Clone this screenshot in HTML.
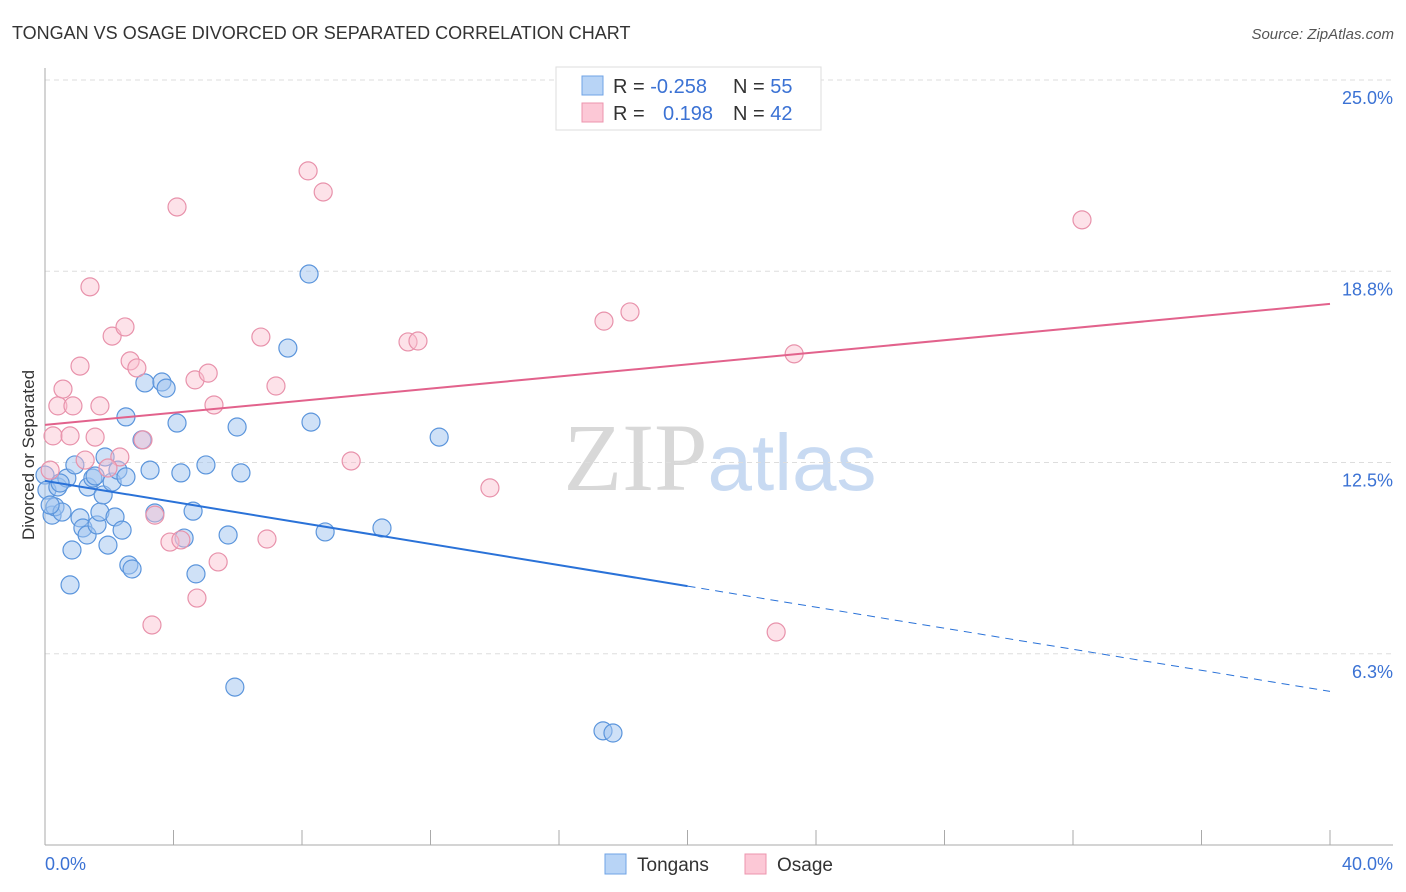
<!DOCTYPE html>
<html><head><meta charset="utf-8"><style>
html,body{margin:0;padding:0;background:#fff;width:1406px;height:892px;overflow:hidden;font-family:"Liberation Sans",sans-serif}
</style></head><body>
<svg id="chart" width="1406" height="892" xmlns="http://www.w3.org/2000/svg" font-family="Liberation Sans, sans-serif">
<text x="12" y="39" font-size="18" fill="#333">TONGAN VS OSAGE DIVORCED OR SEPARATED CORRELATION CHART</text>
<text x="1394" y="39" font-size="15" fill="#555" text-anchor="end" font-style="italic">Source: ZipAtlas.com</text>
<text x="720" y="490" font-size="96" text-anchor="middle"><tspan fill="#d8d8d8" font-family="Liberation Serif, serif">ZIP</tspan><tspan fill="#c8daf2" font-size="80">atlas</tspan></text>
<g id="grid"></g>
<g id="axes"></g>
<g id="pts"></g>
<g id="trends"></g>
<text transform="translate(34,455) rotate(-90)" font-size="17" fill="#333" text-anchor="middle">Divorced or Separated</text>
<g>
<rect x="556" y="67" width="265" height="63" fill="#fff" stroke="#ddd"/>
<rect x="582" y="76" width="21" height="19" fill="#b8d4f6" stroke="#6fa3e6"/>
<rect x="582" y="103" width="21" height="19" fill="#fcc8d6" stroke="#ec94ae"/>
<text x="613" y="93" font-size="20" fill="#333">R = <tspan fill="#3b72d4">-0.258</tspan></text>
<text x="733" y="93" font-size="20" fill="#333">N = <tspan fill="#3b72d4">55</tspan></text>
<text x="613" y="120" font-size="20" fill="#333">R = </text>
<text x="663" y="120" font-size="20" fill="#3b72d4">0.198</text>
<text x="733" y="120" font-size="20" fill="#333">N = <tspan fill="#3b72d4">42</tspan></text>
</g>
<g>
<rect x="605" y="854" width="21" height="20" fill="#b8d4f6" stroke="#6fa3e6"/>
<text x="637" y="871" font-size="19" fill="#333">Tongans</text>
<rect x="745" y="854" width="21" height="20" fill="#fcc8d6" stroke="#ec94ae"/>
<text x="777" y="871" font-size="19" fill="#333">Osage</text>
</g>
</svg>
<script>
const yTicks=[25,18.75,12.5,6.25];
const yTickLabels=["25.0%","18.8%","12.5%","6.3%"];
const xTicks=[0,4,8,12,16,20,24,28,32,36,40];
const xEndLabels=["0.0%","40.0%"];
const tonganX=[0,0.06,0.22,0.31,0.40,0.53,0.68,0.84,0.78,0.93,1.09,1.18,1.31,1.34,1.49,1.62,1.71,1.81,1.87,1.96,2.09,2.18,2.27,2.40,2.52,2.52,2.61,2.71,3.02,3.11,3.27,3.42,3.64,3.77,4.11,4.23,4.33,4.61,4.70,5.01,5.70,5.98,6.10,5.91,7.56,8.22,8.28,8.72,10.49,12.27,17.37,17.68,0.16,0.47,1.56];
const tonganY=[12.09,11.60,10.78,11.05,11.70,10.88,11.99,9.64,8.50,12.42,10.69,10.36,10.13,11.70,11.99,10.46,10.88,11.44,12.68,9.80,11.86,10.72,12.25,10.29,12.03,13.99,9.15,9.02,13.24,15.10,12.25,10.85,15.13,14.93,13.79,12.16,10.03,10.91,8.86,12.42,10.13,13.66,12.16,5.16,16.24,18.66,13.82,10.23,10.36,13.33,3.73,3.66,11.11,11.83,12.06];
const osageX=[0.16,0.25,0.40,0.56,0.78,0.87,1.09,1.25,1.40,1.56,1.71,2.09,2.49,2.65,2.86,3.05,2.33,1.96,3.42,3.89,4.11,4.23,4.67,4.73,5.08,5.26,5.39,3.33,6.72,6.91,7.19,8.19,8.66,9.53,11.30,11.61,13.85,17.40,18.21,22.76,23.32,32.28];
const osageY=[12.25,13.37,14.35,14.90,13.37,14.35,15.65,12.58,18.24,13.33,14.35,16.63,16.93,15.82,15.59,13.24,12.68,12.32,10.78,9.90,20.85,9.97,15.20,8.07,15.42,14.38,9.25,7.19,16.60,10.00,15.00,22.03,21.34,12.55,16.44,16.47,11.67,17.12,17.42,6.96,16.05,20.43];
const tonganTrend=[11.90,-0.172];
const osageTrend=[13.73,0.0988];
const NS="http://www.w3.org/2000/svg";
const X0=45,X1=1330,YT=80,PPU=30.6;
function sx(v){return X0+(v/40)*(X1-X0);}
function sy(v){return YT+(25-v)*PPU;}
function mk(tag,attrs,parent){const e=document.createElementNS(NS,tag);for(const k in attrs)e.setAttribute(k,attrs[k]);document.getElementById(parent).appendChild(e);return e;}
yTicks.forEach((t,i)=>{
 const l=mk('line',{x1:X0,x2:1393,y1:sy(t),y2:sy(t),stroke:'#ddd','stroke-dasharray':'5,4'},'grid');
 
 
 const tx=mk('text',{x:1393,y:sy(t)+24,'text-anchor':'end','font-size':18,fill:'#3b72d4'},'grid');
 tx.textContent=yTickLabels[i];
 
 
});
const ax=mk('line',{x1:X0,x2:1393,y1:845,y2:845,stroke:'#aaa'},'axes');


const ay=mk('line',{x1:X0,x2:X0,y1:68,y2:845,stroke:'#aaa'},'axes');


xTicks.forEach(t=>{
 const l=mk('line',{x1:sx(t),x2:sx(t),y1:830,y2:845,stroke:'#aaa'},'axes');
 
 
});
const xl0=mk('text',{x:45,y:870,'font-size':18,fill:'#3b72d4'},'axes');xl0.textContent=xEndLabels[0];


const xl1=mk('text',{x:1393,y:870,'font-size':18,fill:'#3b72d4','text-anchor':'end'},'axes');xl1.textContent=xEndLabels[1];


tonganX.forEach((x,i)=>{
 const c=mk('circle',{cx:sx(x),cy:sy(tonganY[i]),r:9,fill:'rgba(160,196,240,0.5)',stroke:'#5b95dc','stroke-width':1.2},'pts');
 
 
});
osageX.forEach((x,i)=>{
 const c=mk('circle',{cx:sx(x),cy:sy(osageY[i]),r:9,fill:'rgba(250,190,206,0.45)',stroke:'#e892ab','stroke-width':1.2},'pts');
 
 
});
const tb=mk('line',{x1:sx(0),y1:sy(tonganTrend[0]),x2:sx(20),y2:sy(tonganTrend[0]+tonganTrend[1]*20),stroke:'#2a72d8','stroke-width':2},'trends');


const td=mk('line',{x1:sx(20),y1:sy(tonganTrend[0]+tonganTrend[1]*20),x2:sx(40),y2:sy(tonganTrend[0]+tonganTrend[1]*40),stroke:'#2a72d8','stroke-width':1,'stroke-dasharray':'8,6'},'trends');


const tp=mk('line',{x1:sx(0),y1:sy(osageTrend[0]),x2:sx(40),y2:sy(osageTrend[0]+osageTrend[1]*40),stroke:'#e2628c','stroke-width':2},'trends');


</script>
</body></html>
